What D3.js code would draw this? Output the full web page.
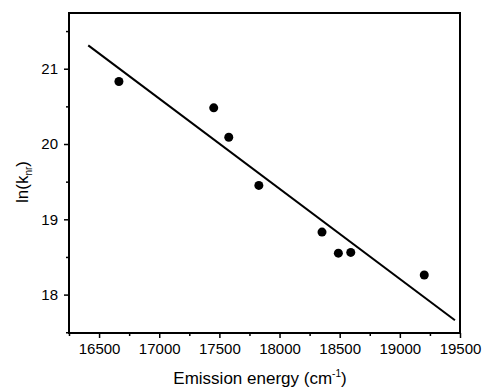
<!DOCTYPE html>
<html>
<head>
<meta charset="utf-8">
<script src="https://cdn.jsdelivr.net/npm/d3@7"></script>
<style>
  body { margin: 0; background: #fff; }
  text { font-family: "Liberation Sans", Arial, sans-serif; fill: #000; }
</style>
</head>
<body>
<script>
// measured points
const energy = [16665, 17453, 17578, 17828, 18353, 18489, 18592, 19203];
const lnKnr  = [20.83, 20.48, 20.09, 19.45, 18.83, 18.55, 18.56, 18.26];

// linear fit line endpoints
const fitX = [16410, 19458];
const fitY = [21.31, 17.66];

const xTicks = [16500, 17000, 17500, 18000, 18500, 19000, 19500];
const yTicks = [18, 19, 20, 21];

const width = 482, height = 391;
const margin = { top: 13, right: 22, bottom: 58, left: 69 };

const svg = d3.select("body").append("svg")
  .attr("width", width)
  .attr("height", height);

const x = d3.scaleLinear()
  .domain([16250, 19500])
  .range([margin.left, width - margin.right]);

const y = d3.scaleLinear()
  .domain([17.49, 21.74])
  .range([height - margin.bottom, margin.top]);

// frame
svg.append("rect")
  .attr("x", x.range()[0])
  .attr("y", y.range()[1])
  .attr("width", x.range()[1] - x.range()[0])
  .attr("height", y.range()[0] - y.range()[1])
  .attr("fill", "none")
  .attr("stroke", "#000")
  .attr("stroke-width", 2);

// x axis
svg.append("g")
  .attr("transform", `translate(0,${y.range()[0]})`)
  .call(d3.axisBottom(x).tickValues(xTicks).tickFormat(d3.format("d")).tickSize(5).tickPadding(5));
svg.append("g")
  .attr("transform", `translate(0,${y.range()[0]})`)
  .call(d3.axisBottom(x).tickValues(d3.range(16250, 19500, 500)).tickFormat("").tickSize(3));

// y axis
svg.append("g")
  .attr("transform", `translate(${x.range()[0]},0)`)
  .call(d3.axisLeft(y).tickValues(yTicks).tickFormat(d3.format("d")).tickSize(5).tickPadding(6));
svg.append("g")
  .attr("transform", `translate(${x.range()[0]},0)`)
  .call(d3.axisLeft(y).tickValues([17.5, 18.5, 19.5, 20.5, 21.5]).tickFormat("").tickSize(3));

svg.selectAll(".domain").remove();
svg.selectAll(".tick line").attr("stroke", "#000").attr("stroke-width", 1.5);
svg.selectAll(".tick text")
  .style("font-family", "'Liberation Sans', Arial, sans-serif")
  .style("font-size", "15px")
  .attr("fill", "#000");

// fit line
svg.append("line")
  .attr("x1", x(fitX[0])).attr("y1", y(fitY[0]))
  .attr("x2", x(fitX[1])).attr("y2", y(fitY[1]))
  .attr("stroke", "#000")
  .attr("stroke-width", 2);

// points
svg.append("g")
  .selectAll("circle")
  .data(energy.map((e, i) => [e, lnKnr[i]]))
  .join("circle")
  .attr("cx", d => x(d[0]))
  .attr("cy", d => y(d[1]))
  .attr("r", 4.5)
  .attr("fill", "#000");

// x label
const xl = svg.append("text")
  .attr("x", 260)
  .attr("y", 384)
  .attr("text-anchor", "middle")
  .style("font-size", "17px");
xl.append("tspan").text("Emission energy (cm");
xl.append("tspan").attr("dy", -7).style("font-size", "10px").text("-1");
xl.append("tspan").attr("dy", 7).text(")");

// y label
const yl = svg.append("text")
  .attr("transform", "translate(28,182) rotate(-90)")
  .attr("text-anchor", "middle")
  .style("font-size", "17px");
yl.append("tspan").text("ln(k");
yl.append("tspan").attr("dy", 4).style("font-size", "10px").text("nr");
yl.append("tspan").attr("dy", -4).text(")");
</script>
</body>
</html>
